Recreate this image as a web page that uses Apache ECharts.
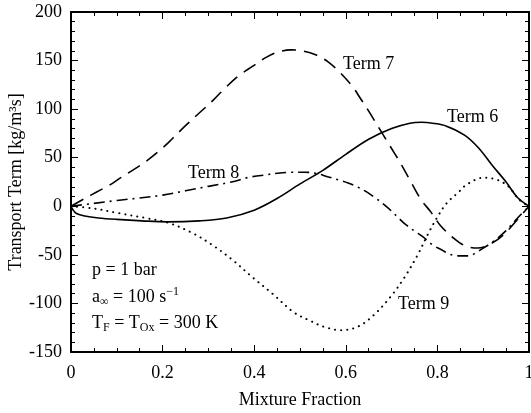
<!DOCTYPE html>
<html><head><meta charset="utf-8">
<script src="https://cdn.jsdelivr.net/npm/echarts@6/dist/echarts.min.js"></script>
<style>html,body{margin:0;padding:0;background:#fff}#c{width:531px;height:413px}</style>
</head><body><div id="c"></div>
<script>
// Tick ranges
const xTicks = [0, 0.2, 0.4, 0.6, 0.8, 1];
const yTicks = [-150, -100, -50, 0, 50, 100, 150, 200];

// Term 6 (solid)
const term6X = [0, 0.005, 0.012, 0.03, 0.06, 0.1, 0.155, 0.21, 0.28, 0.34, 0.4, 0.45, 0.5, 0.55, 0.6, 0.65, 0.7, 0.74, 0.765, 0.79, 0.82, 0.86, 0.89, 0.92, 0.95, 0.975, 1];
const term6Y = [0, -4, -7.5, -10, -12, -13.5, -15, -16, -15, -12, -4, 8, 23, 37, 53.5, 69, 80, 85.5, 86.5, 85.5, 82.5, 73, 60, 42, 25, 9, 0];

// Term 7 (dashed)
const term7X = [0, 0.03, 0.057, 0.085, 0.107, 0.136, 0.166, 0.195, 0.22, 0.25, 0.28, 0.31, 0.335, 0.365, 0.396, 0.425, 0.45, 0.48, 0.505, 0.534, 0.562, 0.589, 0.615, 0.632, 0.65, 0.672, 0.694, 0.72, 0.74, 0.764, 0.786, 0.807, 0.836, 0.862, 0.888, 0.915, 0.943, 0.976, 1];
const term7Y = [0, 8, 15, 22, 29, 37.5, 47, 58, 69, 83, 96, 109, 121, 134, 144, 153, 158.5, 161, 160, 156, 148.5, 137, 123, 111, 98, 81, 64, 44, 27, 7, -6, -20, -33, -41, -43, -39, -30, -13, 0];

// Term 8 (dash-dot)
const term8X = [0, 0.05, 0.1, 0.15, 0.2, 0.25, 0.3, 0.35, 0.39, 0.42, 0.45, 0.48, 0.51, 0.535, 0.56, 0.585, 0.605, 0.625, 0.648, 0.665, 0.683, 0.7, 0.713, 0.731, 0.753, 0.77, 0.79, 0.81, 0.825, 0.845, 0.867, 0.884, 0.9, 0.92, 0.95, 0.975, 1];
const term8Y = [0, 3, 6, 8.5, 11.5, 16, 20.5, 25, 30, 32, 34, 35, 35, 34, 30.5, 27, 24, 20, 14, 8.5, 2, -5, -11, -19, -26.5, -32, -40, -45, -49, -51, -51, -48, -43, -37, -25, -12, 0];

// Term 9 (dotted)
const term9X = [0, 0.046, 0.103, 0.162, 0.212, 0.265, 0.309, 0.352, 0.396, 0.44, 0.486, 0.523, 0.552, 0.589, 0.626, 0.661, 0.698, 0.727, 0.757, 0.779, 0.8, 0.82, 0.845, 0.866, 0.902, 0.932, 0.956, 0.978, 1];
const term9Y = [0, -2, -7, -12, -17, -27.5, -40, -55, -73, -90, -109, -118, -124, -127.5, -124, -112, -93, -74, -50, -29, -11, 3, 14, 23, 29.5, 27, 20, 7, 0];

const F = '"Liberation Serif", "Times New Roman", serif';
const pairs = (xs, ys) => xs.map((x, i) => [x, ys[i]]);

function axisCommon(showLabel) {
  return {
    axisLine: { show: true, onZero: false, lineStyle: { color: '#000', width: 2 } },
    axisTick: { show: true, inside: true, length: 7, lineStyle: { color: '#000', width: 1 } },
    minorTick: { show: true, length: 4, lineStyle: { color: '#000', width: 1 } },
    splitLine: { show: false },
    minorSplitLine: { show: false },
    axisLabel: { show: showLabel, color: '#000', fontFamily: F, fontSize: 18 }
  };
}
function xAxisDef(pos, showLabel) {
  const a = axisCommon(showLabel);
  a.minorTick.splitNumber = 4;
  a.axisLabel.margin = 12;
  return Object.assign(a, {
    type: 'value', position: pos,
    min: xTicks[0], max: xTicks[xTicks.length - 1], interval: xTicks[1] - xTicks[0]
  });
}
function yAxisDef(pos, showLabel) {
  const a = axisCommon(showLabel);
  a.minorTick.splitNumber = 5;
  a.axisLabel.margin = 9;
  return Object.assign(a, {
    type: 'value', position: pos,
    min: yTicks[0], max: yTicks[yTicks.length - 1], interval: yTicks[1] - yTicks[0]
  });
}

const xb = xAxisDef('bottom', true);
xb.name = 'Mixture Fraction';
xb.nameLocation = 'middle';
xb.nameGap = 39;
xb.nameMoveOverlap = false;
xb.nameTextStyle = { fontFamily: F, fontSize: 18, color: '#000' };
const yl = yAxisDef('left', true);
yl.name = 'Transport Term [kg/m³s]';
yl.nameLocation = 'middle';
yl.nameGap = 46;
yl.nameMoveOverlap = false;
yl.nameTextStyle = { fontFamily: F, fontSize: 18, color: '#000' };

function line(name, xs, ys, type, width, cap) {
  return {
    name, type: 'line', data: pairs(xs, ys), xAxisIndex: 0, yAxisIndex: 0,
    showSymbol: false, smooth: 0.35,
    lineStyle: { color: '#000', width: width, type: type, cap: cap || 'butt' },
    silent: true
  };
}

const txt = (x, y, s) => ({
  type: 'text', x: x, y: y, silent: true,
  style: { text: s, fontFamily: F, fontSize: 18, fill: '#000', align: 'left', verticalAlign: 'middle', textAlign: 'left', textVerticalAlign: 'middle' }
});
const rich = {
  m: { fontFamily: F, fontSize: 18, fill: '#000', color: '#000', lineHeight: 22 },
  sb: { fontFamily: F, fontSize: 12, fill: '#000', color: '#000', lineHeight: 12, verticalAlign: 'bottom' },
  sp: { fontFamily: F, fontSize: 12, fill: '#000', color: '#000', lineHeight: 12, verticalAlign: 'top' }
};
const rtxt = (x, y, s) => ({
  type: 'text', x: x, y: y, silent: true,
  style: { text: s, rich: rich, fontFamily: F, fontSize: 18, fill: '#000', align: 'left', verticalAlign: 'middle', textAlign: 'left', textVerticalAlign: 'middle' }
});

const chart = echarts.init(document.getElementById('c'), null, { renderer: 'canvas' });
chart.setOption({
  backgroundColor: '#fff',
  animation: false,
  grid: { left: 71, right: 2, top: 12, bottom: 61, containLabel: false, outerBoundsMode: 'none' },
  xAxis: [xb, xAxisDef('top', false)],
  yAxis: [yl, yAxisDef('right', false)],
  series: [
    line('Term 6', term6X, term6Y, 'solid', 1.6),
    line('Term 7', term7X, term7Y, [14, 8], 1.6),
    line('Term 8', term8X, term8Y, [11, 5, 2, 5], 1.6),
    line('Term 9', term9X, term9Y, [0.1, 6], 2, 'round')
  ],
  graphic: [
    txt(343, 64.5, 'Term 7'),
    txt(447, 117, 'Term 6'),
    txt(188, 173, 'Term 8'),
    txt(398, 304, 'Term 9'),
    txt(92, 270, 'p = 1 bar'),
    rtxt(92, 297, '{m|a}{sb|∞}{m| = 100 s}{sp|−1}'),
    rtxt(92, 323, '{m|T}{sb|F}{m| = T}{sb|Ox}{m| = 300 K}')
  ]
});
</script></body></html>
